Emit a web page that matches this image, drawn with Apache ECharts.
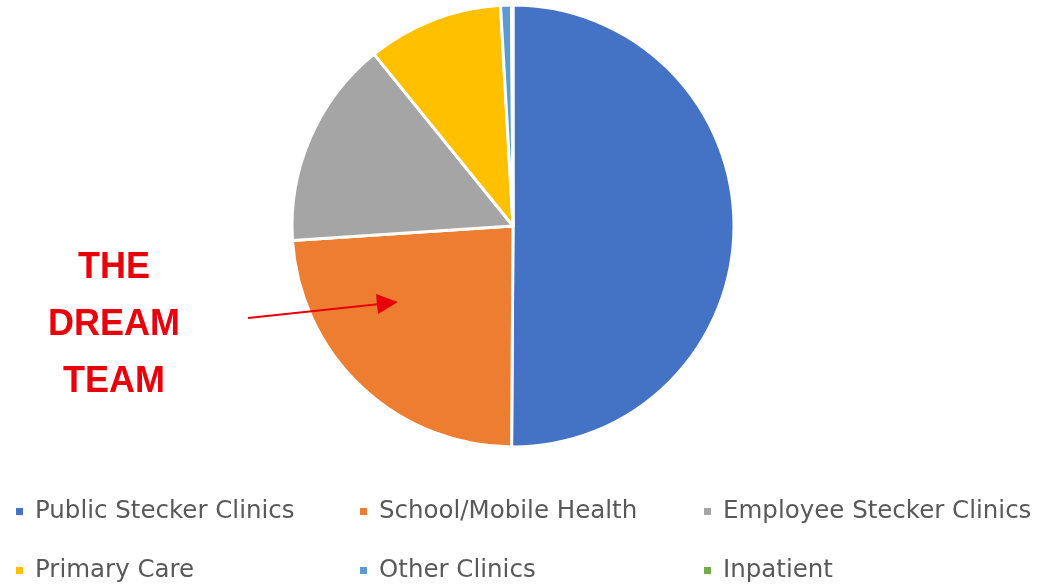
<!DOCTYPE html>
<html><head><meta charset="utf-8">
<script src="https://cdn.jsdelivr.net/npm/echarts@6/dist/echarts.min.js"></script>
<style>html,body{margin:0;padding:0;background:#fff}#c{width:1038px;height:584px}</style>
</head><body><div id="c"></div>
<script>
const categories = ['Public Stecker Clinics','School/Mobile Health','Employee Stecker Clinics','Primary Care','Other Clinics','Inpatient'];
const values = [50, 23.8, 15.2, 9.9, 0.8, 0.1];
const colors = ['#4472C4','#ED7D31','#A5A5A5','#FFC000','#5B9BD5','#70AD47'];
const legendPos = [[14,499],[358,499],[702,499],[14,558],[358,558],[702,558]];
const annotationLines = ['THE','DREAM','TEAM'];

const chart = echarts.init(document.getElementById('c'));
const legends = categories.map((name,i)=>({
  data:[{name:name, icon:'rect'}], left:legendPos[i][0], top:legendPos[i][1],
  itemWidth:9, itemHeight:9, selectedMode:false, padding:0,
  textStyle:{color:'#595959', fontSize:24.5, fontFamily:'DejaVu Sans', padding:[0,0,0,6]}
}));
chart.setOption({
  animation:false,
  color:colors,
  legend:legends,
  series:[{
    type:'pie', center:[513,226], radius:[0,221], startAngle:90, clockwise:true,
    label:{show:false}, labelLine:{show:false},
    itemStyle:{borderColor:'#fff', borderWidth:3},
    data:categories.map((n,i)=>({name:n, value:values[i]}))
  }],
  graphic:[
    ...annotationLines.map((t,i)=>({
      type:'text', z:100,
      style:{text:t, x:114, y:268+i*57, textAlign:'center', textVerticalAlign:'middle',
        fill:'#E8000B', font:'bold 36px "Liberation Sans"'}
    })),
    {type:'line', z:100, shape:{x1:248,y1:318,x2:380,y2:304}, style:{stroke:'#E8000B', lineWidth:2}},
    {type:'polygon', z:100, shape:{points:[[398,302],[376,294],[378,314]]}, style:{fill:'#E8000B'}}
  ]
});
</script></body></html>
